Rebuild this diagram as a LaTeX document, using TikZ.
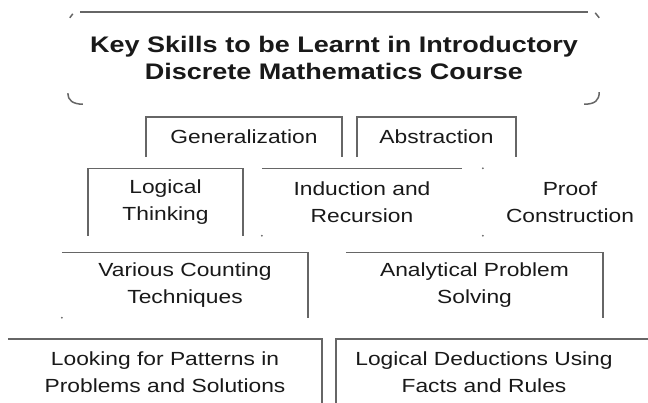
\documentclass[tikz,border=0pt]{standalone}
\usepackage{fontspec}
\setmainfont{Liberation Sans}[FakeStretch=1.2]
\begin{document}
\begin{tikzpicture}[x=1pt,y=-1pt,
  box/.style={inner sep=0pt, align=center, text=black!90, font=\fontsize{19}{27}\selectfont},
  rim/.style={line width=1.5pt, draw=black!60},
  dotmark/.style={fill=black!60}]
\useasboundingbox (0,0) rectangle (648,403);
% title
\node[box, minimum width=532pt, minimum height=92pt, font=\bfseries\fontsize{22.5}{27}\selectfont] (title) at (334,58)
  {Key Skills to be Learnt in Introductory\\Discrete Mathematics Course};
\draw[rim] ([xshift=12pt]title.north west) -- ([xshift=-12pt]title.north east);
\draw[rim] ([xshift=2pt,yshift=-6pt]title.north west) -- ([xshift=5pt,yshift=-2pt]title.north west);
\draw[rim] ([yshift=11pt]title.south west) .. controls ([yshift=4pt]title.south west) and ([xshift=5pt]title.south west) .. ([xshift=15pt]title.south west);
\draw[rim] ([xshift=-5pt,yshift=-1pt]title.north east) -- ([xshift=-1pt,yshift=-6pt]title.north east);
\draw[rim] ([xshift=-16pt]title.south east) .. controls ([xshift=-5pt]title.south east) and ([xshift=-1pt,yshift=4pt]title.south east) .. ([xshift=-1pt,yshift=12pt]title.south east);
% row 2
\node[box, minimum width=196pt, minimum height=40pt] (gen) at (244,137) {Generalization};
\node[box, minimum width=159pt, minimum height=40pt] (abs) at (436.5,137) {Abstraction};
\draw[rim] (gen.south west) -- (gen.north west) -- (gen.north east) -- (gen.south east);
\draw[rim] (abs.south west) -- (abs.north west) -- (abs.north east) -- (abs.south east);
% row 3
\node[box, minimum width=155pt, minimum height=67pt] (logic) at (165.5,202) {Logical\\Thinking};
\node[box, minimum width=200pt, minimum height=67pt] (ind) at (362,202) {Induction and\\Recursion};
\node[box, minimum width=174pt, minimum height=67pt] (proof) at (570,202) {Proof\\Construction};
\draw[rim] (logic.south west) -- (logic.north west) -- (logic.north east) -- (logic.south east);
\draw[rim] (ind.north west) -- (ind.north east);
\fill[dotmark] (ind.south west) circle (1pt);
\fill[dotmark] (proof.north west) circle (1pt);
\fill[dotmark] (proof.south west) circle (1pt);
% row 4
\node[box, minimum width=246pt, minimum height=65pt] (count) at (185,285) {Various Counting\\Techniques};
\node[box, minimum width=257pt, minimum height=65pt] (anal) at (474.5,285) {Analytical Problem\\Solving};
\draw[rim] (count.north west) -- (count.north east) -- (count.south east);
\fill[dotmark] (count.south west) circle (1pt);
\draw[rim] (anal.north west) -- (anal.north east) -- (anal.south east);
% row 5
\node[box, minimum width=314pt, minimum height=66pt] (look) at (165,372) {Looking for Patterns in\\Problems and Solutions};
\node[box, minimum width=296pt, minimum height=66pt] (ded) at (484,372) {Logical Deductions Using\\Facts and Rules};
\draw[rim] (look.north west) -- (look.north east) -- (look.south east);
\draw[rim] (ded.south west) -- (ded.north west) -- (ded.north east) -- ([xshift=20pt]ded.north east);
\end{tikzpicture}
\end{document}
